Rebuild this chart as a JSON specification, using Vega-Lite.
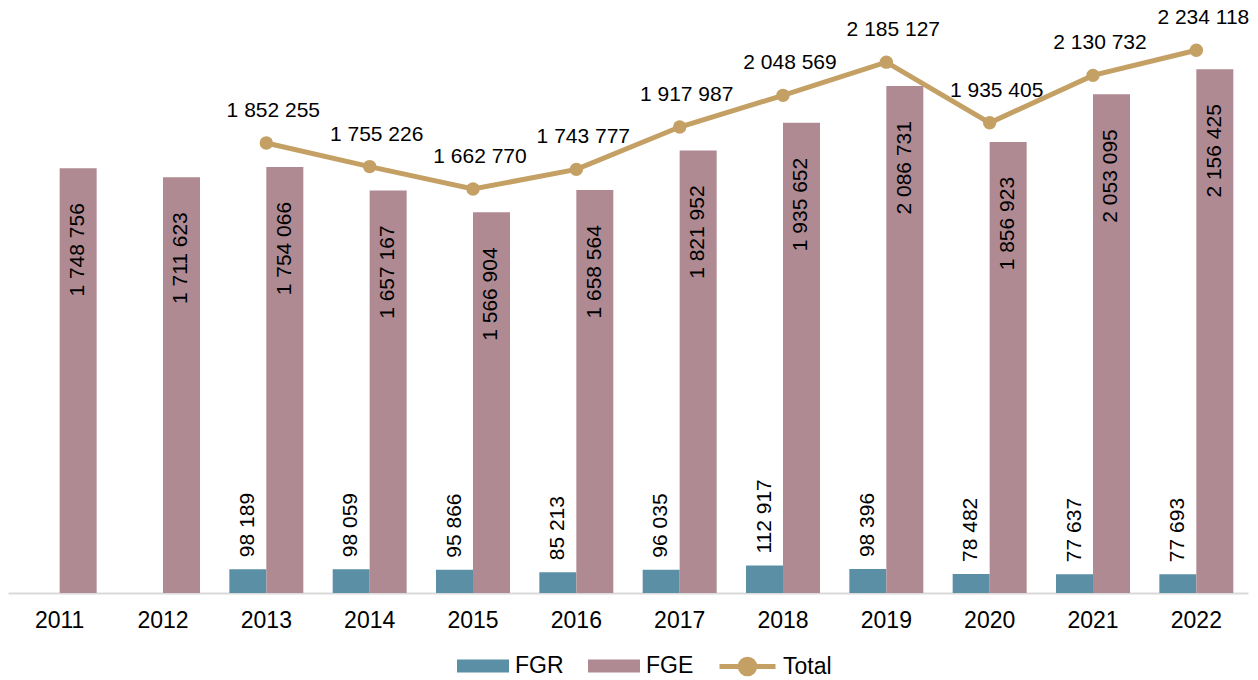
{
  "$schema": "https://vega.github.io/schema/vega-lite/v6.json",
  "width": 1240,
  "height": 593,
  "autosize": {"type": "none"},
  "padding": {"left": 8, "top": 0, "right": 10, "bottom": 87},
  "background": "white",
  "config": {
    "view": {"stroke": null},
    "font": "Liberation Sans",
    "locale": {"number": {"decimal": ",", "thousands": " ", "grouping": [3], "currency": ["", ""]}}
  },
  "data": {
    "values": [
      {"year": "2011", "series": "FGE", "value": 1748756},
      {"year": "2012", "series": "FGE", "value": 1711623},
      {"year": "2013", "series": "FGR", "value": 98189},
      {"year": "2013", "series": "FGE", "value": 1754066},
      {"year": "2013", "series": "Total", "value": 1852255},
      {"year": "2014", "series": "FGR", "value": 98059},
      {"year": "2014", "series": "FGE", "value": 1657167},
      {"year": "2014", "series": "Total", "value": 1755226},
      {"year": "2015", "series": "FGR", "value": 95866},
      {"year": "2015", "series": "FGE", "value": 1566904},
      {"year": "2015", "series": "Total", "value": 1662770},
      {"year": "2016", "series": "FGR", "value": 85213},
      {"year": "2016", "series": "FGE", "value": 1658564},
      {"year": "2016", "series": "Total", "value": 1743777},
      {"year": "2017", "series": "FGR", "value": 96035},
      {"year": "2017", "series": "FGE", "value": 1821952},
      {"year": "2017", "series": "Total", "value": 1917987},
      {"year": "2018", "series": "FGR", "value": 112917},
      {"year": "2018", "series": "FGE", "value": 1935652},
      {"year": "2018", "series": "Total", "value": 2048569},
      {"year": "2019", "series": "FGR", "value": 98396},
      {"year": "2019", "series": "FGE", "value": 2086731},
      {"year": "2019", "series": "Total", "value": 2185127},
      {"year": "2020", "series": "FGR", "value": 78482},
      {"year": "2020", "series": "FGE", "value": 1856923},
      {"year": "2020", "series": "Total", "value": 1935405},
      {"year": "2021", "series": "FGR", "value": 77637},
      {"year": "2021", "series": "FGE", "value": 2053095},
      {"year": "2021", "series": "Total", "value": 2130732},
      {"year": "2022", "series": "FGR", "value": 77693},
      {"year": "2022", "series": "FGE", "value": 2156425},
      {"year": "2022", "series": "Total", "value": 2234118}
    ]
  },
  "encoding": {
    "x": {
      "field": "year", "type": "nominal", "sort": null,
      "scale": {"paddingInner": 0.284, "paddingOuter": 0.142},
      "axis": {
        "title": null, "labelAngle": 0, "labelFontSize": 23, "labelColor": "#000000",
        "labelPadding": 16, "ticks": false, "domainColor": "#D9D9D9", "domainWidth": 2,
        "grid": false, "labelFont": "Liberation Sans"
      }
    },
    "y": {
      "field": "value", "type": "quantitative",
      "scale": {"domain": [0, 2441000], "nice": false, "zero": true},
      "axis": null
    }
  },
  "layer": [
    {
      "transform": [{"filter": "datum.series !== 'Total'"}],
      "mark": {"type": "bar"},
      "encoding": {
        "xOffset": {"field": "series", "type": "nominal", "scale": {"domain": ["FGR", "FGE"], "paddingInner": 0, "paddingOuter": 0}},
        "fill": {
          "field": "series", "type": "nominal",
          "scale": {"domain": ["FGR", "FGE"], "range": ["#5B8FA6", "#AF8A92"]},
          "legend": {
            "title": null, "orient": "none", "legendX": 449, "legendY": 640, "direction": "horizontal",
            "symbolType": "M-1,-0.25H1V0.25H-1Z", "symbolSize": 2704, "symbolStrokeWidth": 0,
            "labelFontSize": 23, "labelColor": "#000000", "labelOffset": 6, "columnPadding": 24,
            "labelFont": "Liberation Sans"
          }
        }
      }
    },
    {
      "transform": [{"filter": "datum.series === 'FGE'"}],
      "mark": {"type": "text", "angle": 270, "align": "right", "baseline": "middle", "dx": -35, "fontSize": 21, "color": "#000000"},
      "encoding": {
        "xOffset": {"field": "series", "type": "nominal"},
        "text": {"field": "value", "type": "quantitative", "format": ","}
      }
    },
    {
      "transform": [{"filter": "datum.series === 'FGR'"}],
      "mark": {"type": "text", "angle": 270, "align": "left", "baseline": "middle", "dx": 12, "fontSize": 21, "color": "#000000"},
      "encoding": {
        "xOffset": {"field": "series", "type": "nominal"},
        "text": {"field": "value", "type": "quantitative", "format": ","}
      }
    },
    {
      "transform": [{"filter": "datum.series === 'Total'"}],
      "mark": {"type": "line", "strokeWidth": 5},
      "encoding": {
        "stroke": {
          "field": "series", "type": "nominal",
          "scale": {"domain": ["Total"], "range": ["#C4A064"]},
          "legend": {
            "title": null, "orient": "none", "legendX": 709, "legendY": 636, "direction": "horizontal",
            "symbolType": "M-1,0H1M0.26,0A0.26,0.26,0,1,1,-0.26,0A0.26,0.26,0,1,1,0.26,0Z",
            "symbolSize": 3136, "symbolStrokeWidth": 5, "symbolFillColor": "#C4A064",
            "labelFontSize": 23, "labelColor": "#000000", "labelOffset": 5,
            "labelFont": "Liberation Sans"
          }
        }
      }
    },
    {
      "transform": [{"filter": "datum.series === 'Total'"}],
      "mark": {"type": "point", "filled": true, "size": 180, "opacity": 1, "color": "#C4A064"}
    },
    {
      "transform": [{"filter": "datum.series === 'Total'"}],
      "mark": {"type": "text", "baseline": "middle", "align": "center", "dy": -32, "dx": 7, "fontSize": 21, "color": "#000000"},
      "encoding": {
        "text": {"field": "value", "type": "quantitative", "format": ","}
      }
    }
  ]
}
